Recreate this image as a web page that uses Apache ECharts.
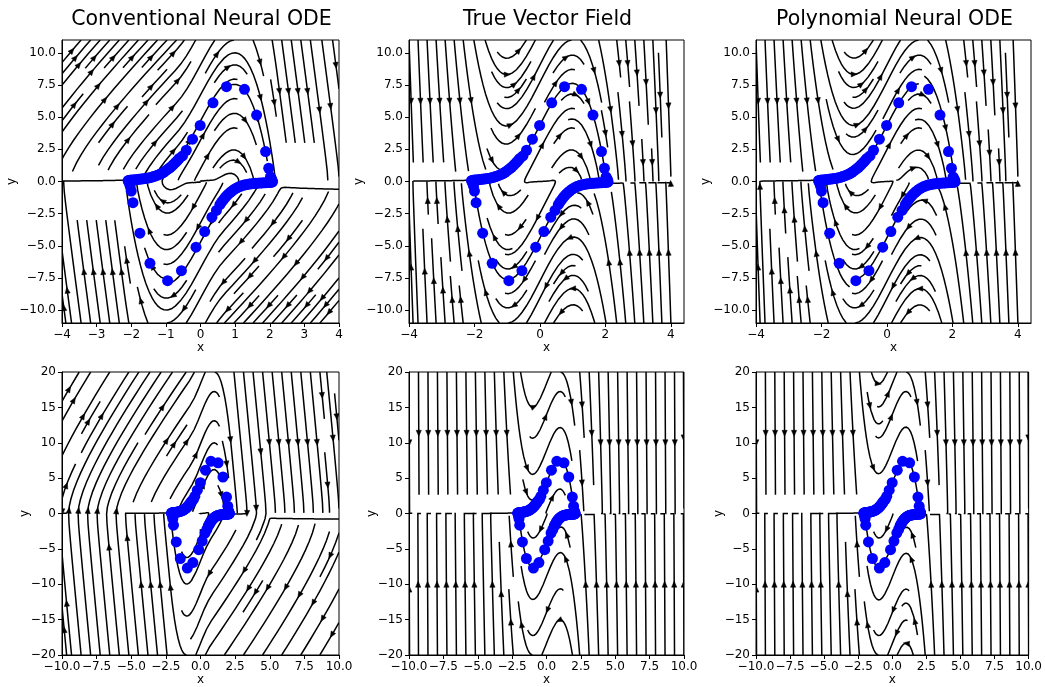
<!DOCTYPE html>
<html>
<head>
<meta charset="utf-8">
<script src="https://cdn.jsdelivr.net/npm/echarts@6/dist/echarts.min.js"></script>
<style>
  html, body { margin: 0; padding: 0; background: #fff; }
  #chart { width: 1045px; height: 687px; }
</style>
</head>
<body>
<div id="chart"></div>
<script>
// panel titles
const titles = ['Conventional Neural ODE', 'True Vector Field', 'Polynomial Neural ODE'];

const trajX = [
  -2.09, -2.07, -2.04, -2.0, -1.95, -1.9, -1.84, -1.78, -1.72, -1.66, -1.6, -1.54, -1.48, -1.42, -1.36,
  -1.3, -1.24, -1.18, -1.12, -1.07, -1.02, -0.97, -0.92, -0.87, -0.82, -0.77, -0.72, -0.67, -0.62,
  -0.52, -0.41, -0.23, -0.01, 0.36, 0.75, 1.27, 1.62, 1.88, 1.97, 2.02,
  2.05, 2.06, 2.07,
  2.08, 2.06, 2.03, 1.99, 1.94, 1.89, 1.83, 1.77, 1.71, 1.65, 1.59, 1.53, 1.47, 1.41, 1.35,
  1.29, 1.23, 1.17, 1.11, 1.06, 1.01, 0.96, 0.91, 0.86, 0.81, 0.76, 0.71, 0.66, 0.61, 0.56,
  0.46, 0.33, 0.12, -0.13, -0.55, -0.95, -1.46, -1.75, -1.95, -2.0,
  -2.03, -2.05, -2.07
];
const trajY = [
  0.06, 0.08, 0.1, 0.11, 0.12, 0.13, 0.15, 0.17, 0.19, 0.21, 0.23, 0.26, 0.29, 0.33, 0.38,
  0.43, 0.49, 0.56, 0.64, 0.72, 0.8, 0.9, 1.0, 1.1, 1.22, 1.35, 1.48, 1.62, 1.78,
  1.99, 2.43, 3.29, 4.36, 6.12, 7.37, 7.17, 5.16, 2.33, 1.03, 0.35,
  0.2, 0.1, 0.03,
  -0.02, -0.04, -0.06, -0.07, -0.08, -0.09, -0.1, -0.11, -0.12, -0.13, -0.14, -0.16, -0.18, -0.2, -0.23,
  -0.26, -0.3, -0.35, -0.41, -0.48, -0.56, -0.64, -0.74, -0.85, -0.97, -1.1, -1.25, -1.42, -1.6, -1.8,
  -2.25, -2.77, -3.89, -5.11, -6.93, -7.71, -6.36, -4.02, -1.65, -0.74,
  -0.35, -0.15, -0.02
];

// tick labels
const topXTicksConv = [-4, -3, -2, -1, 0, 1, 2, 3, 4];
const topXTicks = [-4, -2, 0, 2, 4];
const topYTicks = [-10, -7.5, -5, -2.5, 0, 2.5, 5, 7.5, 10];
const botXTicks = [-10, -7.5, -5, -2.5, 0, 2.5, 5, 7.5, 10];
const botYTicks = [-20, -15, -10, -5, 0, 5, 10, 15, 20];

// vector field parameters (Van der Pol type)
const MU_TRUE = 5.0;
const MU_POLY = 4.97;
const POLY_K = 1.01;
const CONV_MU = 5.0;
const CONV_SLOPE = 2.8;
const CONV_FLOOR = -20;
const CONV_BAND = 0.4;

function trueField(x, y) { return [y, MU_TRUE * (1 - x * x) * y - x]; }
function polyField(x, y) { return [y, MU_POLY * (1 - x * x) * y - POLY_K * x]; }
function convField(x, y) {
  if (y < 0) { const r = convField(-x, -y); return [-r[0], -r[1]]; }
  const kv = CONV_MU * (1 - x * x);
  const kfar = x < 0 ? Math.max(kv, CONV_SLOPE) : Math.max(kv, CONV_FLOOR);
  const w = Math.exp(-(y / CONV_BAND) * (y / CONV_BAND));
  const k = kv * w + kfar * (1 - w);
  return [y, k * y - x];
}

function pyRound(v) {
  const f = Math.floor(v);
  const d = v - f;
  if (d === 0.5) return f % 2 === 0 ? f : f + 1;
  return Math.round(v);
}

// matplotlib-like streamplot (density 1)
function streamplot(field, xr, yr) {
  const x0 = xr[0], W = xr[1] - xr[0], y0 = yr[0], H = yr[1] - yr[0];
  const N = 30, maxerror = 0.003, maxds = 1 / N, minlength = 0.1, maxlength = 4.0;
  const mask = new Uint8Array(N * N);
  let cur = null, traj = [];
  const OUT = 'out', TERM = 'term', INVALID = 'invalid';
  const inside = (p, q) => p >= 0 && p <= 1 && q >= 0 && q <= 1;
  const toMask = (p, q) => [pyRound(p * (N - 1)), pyRound(q * (N - 1))];
  function vel(p, q) {
    if (!inside(p, q)) throw OUT;
    const uv = field(x0 + p * W, y0 + q * H);
    const ua = uv[0] / W, va = uv[1] / H, s = Math.hypot(ua, va);
    if (s === 0) throw TERM;
    return [ua / s, va / s];
  }
  function update(p, q) {
    if (!inside(p, q)) throw INVALID;
    const m = toMask(p, q);
    if (!cur || cur[0] !== m[0] || cur[1] !== m[1]) {
      const idx = m[1] * N + m[0];
      if (mask[idx] === 0) { traj.push(idx); mask[idx] = 1; cur = m; }
      else throw INVALID;
    }
  }
  function rk12(p, q, sign) {
    let ds = maxds, stotal = 0;
    const out = [];
    const f = (a, b) => { const r = vel(a, b); return [sign * r[0], sign * r[1]]; };
    while (true) {
      let k1, k2;
      try {
        if (inside(p, q)) out.push([p, q]); else throw OUT;
        k1 = f(p, q);
        k2 = f(p + ds * k1[0], q + ds * k1[1]);
      } catch (e) {
        if (e === OUT && out.length) {
          const last = out[out.length - 1];
          let c = null;
          try { c = f(last[0], last[1]); } catch (e2) { c = null; }
          if (c) {
            const dsx = c[0] === 0 ? Infinity : (c[0] < 0 ? last[0] / -c[0] : (1 - last[0]) / c[0]);
            const dsy = c[1] === 0 ? Infinity : (c[1] < 0 ? last[1] / -c[1] : (1 - last[1]) / c[1]);
            const d = Math.min(dsx, dsy);
            out.push([last[0] + c[0] * d, last[1] + c[1] * d]);
            stotal += d;
          }
        }
        break;
      }
      const dx1 = ds * k1[0], dy1 = ds * k1[1];
      const dx2 = ds * 0.5 * (k1[0] + k2[0]), dy2 = ds * 0.5 * (k1[1] + k2[1]);
      const err = Math.hypot(dx2 - dx1, dy2 - dy1);
      if (err < maxerror) {
        p += dx2; q += dy2;
        try { update(p, q); } catch (e) { break; }
        if (stotal + ds > maxlength) break;
        stotal += ds;
      }
      ds = err === 0 ? maxds : Math.min(maxds, 0.85 * ds * Math.sqrt(maxerror / err));
    }
    return [stotal, out];
  }
  function integrate(p0, q0) {
    traj = [];
    try { update(p0, q0); } catch (e) { return null; }
    const b = rk12(p0, q0, -1);
    let stotal = b[0];
    let pts = b[1].reverse();
    cur = toMask(p0, q0);
    const fw = rk12(p0, q0, 1);
    stotal += fw[0];
    pts = pts.concat(fw[1].slice(1));
    if (stotal > minlength) return pts;
    traj.forEach(i => { mask[i] = 0; });
    return null;
  }
  function startPoints() {
    const res = [];
    let xfirst = 0, yfirst = 1, xlast = N - 1, ylast = N - 1, x = 0, y = 0, dir = 'right';
    for (let i = 0; i < N * N; i++) {
      res.push([x, y]);
      if (dir === 'right') { x += 1; if (x >= xlast) { xlast -= 1; dir = 'up'; } }
      else if (dir === 'up') { y += 1; if (y >= ylast) { ylast -= 1; dir = 'left'; } }
      else if (dir === 'left') { x -= 1; if (x <= xfirst) { xfirst += 1; dir = 'down'; } }
      else { y -= 1; if (y <= yfirst) { yfirst += 1; dir = 'right'; } }
    }
    return res;
  }
  const lines = [], arrows = [];
  startPoints().forEach(([xm, ym]) => {
    if (mask[ym * N + xm] !== 0) return;
    const t = integrate(xm / (N - 1), ym / (N - 1));
    if (!t) return;
    const pts = t.map(([p, q]) => [x0 + p * W, y0 + q * H]);
    lines.push(pts);
    const s = [];
    let acc = 0;
    for (let i = 1; i < pts.length; i++) {
      acc += Math.hypot(pts[i][0] - pts[i - 1][0], pts[i][1] - pts[i - 1][1]);
      s.push(acc);
    }
    const half = acc / 2;
    let n = 0;
    while (n < s.length && s[n] < half) n++;
    const a = pts[n], b = pts[Math.min(n + 1, pts.length - 1)];
    arrows.push([a[0], a[1], (a[0] + b[0]) / 2, (a[1] + b[1]) / 2]);
  });
  return { lines, arrows };
}

const FONT = 'DejaVu Sans';
const fmt = d => v => (v < 0 ? '\u2212' : '') + Math.abs(v).toFixed(d);

const colLeft = [62, 409, 756];
const colWidth = [277, 275, 275];
const rowTop = [40, 372];
const rowHeight = [283, 284];
const fields = [convField, trueField, polyField];

const panels = [];
for (let r = 0; r < 2; r++) {
  for (let c = 0; c < 3; c++) {
    const top = r === 0;
    panels.push({
      r, c,
      xr: top ? (c === 0 ? [-4, 4] : [-4, 4.4]) : [-10, 10],
      yr: top ? [-11, 11] : [-20, 20],
      gx: top ? [-4, 4] : [-10, 10],
      gy: top ? [-11, 11] : [-20, 20],
      xticks: top ? (c === 0 ? topXTicksConv : topXTicks) : botXTicks,
      yticks: top ? topYTicks : botYTicks,
      xfmt: top ? fmt(0) : fmt(1),
      yfmt: top ? fmt(1) : fmt(0),
      field: fields[c]
    });
  }
}

const grids = [], xAxes = [], yAxes = [], series = [];
panels.forEach((pn, i) => {
  grids.push({
    left: colLeft[pn.c], top: rowTop[pn.r], width: colWidth[pn.c], height: rowHeight[pn.r],
    show: true, borderColor: '#000', borderWidth: 1, backgroundColor: 'transparent'
  });
  const axisCommon = {
    gridIndex: i, type: 'value', nameLocation: 'middle', nameMoveOverlap: false,
    nameTextStyle: { color: '#000', fontFamily: FONT, fontSize: 12 },
    axisLine: { show: true, onZero: false, lineStyle: { color: '#000', width: 1 } },
    splitLine: { show: false }
  };
  xAxes.push(Object.assign({}, axisCommon, {
    min: pn.xr[0], max: pn.xr[1], name: 'x', nameGap: 19,
    axisTick: { show: true, length: 4, customValues: pn.xticks, lineStyle: { color: '#000' } },
    axisLabel: { customValues: pn.xticks, formatter: pn.xfmt, color: '#000', fontFamily: FONT, fontSize: 12, margin: 6 }
  }));
  yAxes.push(Object.assign({}, axisCommon, {
    min: pn.yr[0], max: pn.yr[1], name: 'y', nameGap: pn.r === 0 ? 44 : 31,
    axisTick: { show: true, length: 4, customValues: pn.yticks, lineStyle: { color: '#000' } },
    axisLabel: { customValues: pn.yticks, formatter: pn.yfmt, color: '#000', fontFamily: FONT, fontSize: 12, margin: 6 }
  }));

  const sp = streamplot(pn.field, pn.gx, pn.gy);
  series.push({
    type: 'custom', xAxisIndex: i, yAxisIndex: i, clip: true, silent: true, z: 2,
    data: sp.lines.map((l, k) => [l[0][0], l[0][1], k]),
    encode: { x: 0, y: 1 },
    renderItem: (params, api) => ({
      type: 'polyline',
      shape: { points: sp.lines[params.dataIndex].map(p => api.coord(p)) },
      style: { stroke: '#000', lineWidth: 1.5, fill: null }
    })
  });
  series.push({
    type: 'custom', xAxisIndex: i, yAxisIndex: i, clip: true, silent: true, z: 3,
    data: sp.arrows.map(a => [a[0], a[1], a[2], a[3]]),
    encode: { x: 0, y: 1 },
    renderItem: (params, api) => {
      const a = sp.arrows[params.dataIndex];
      const t = api.coord([a[0], a[1]]), h = api.coord([a[2], a[3]]);
      const ang = Math.atan2(h[1] - t[1], h[0] - t[0]);
      const cs = Math.cos(ang), sn = Math.sin(ang);
      const L = 6, hw = 2.6;
      const tip = [h[0] + cs * L / 2, h[1] + sn * L / 2];
      const base = [tip[0] - cs * L, tip[1] - sn * L];
      return {
        type: 'polygon',
        shape: { points: [tip, [base[0] - sn * hw, base[1] + cs * hw], [base[0] + sn * hw, base[1] - cs * hw]] },
        style: { fill: '#000', stroke: '#000', lineWidth: 0.5 }
      };
    }
  });
  series.push({
    type: 'scatter', xAxisIndex: i, yAxisIndex: i, z: 5, silent: true,
    symbol: 'circle', symbolSize: 11,
    itemStyle: { color: '#0000ff', opacity: 1 },
    data: trajX.map((x, k) => [x, trajY[k]])
  });
});

const chart = echarts.init(document.getElementById('chart'), null, { renderer: 'canvas' });
chart.setOption({
  animation: false,
  backgroundColor: '#fff',
  title: titles.map((t, c) => ({
    text: t, left: colLeft[c] + colWidth[c] / 2 - 4, top: 4, textAlign: 'center',
    textStyle: { fontFamily: FONT, fontSize: 20.5, fontWeight: 'normal', color: '#000' }
  })),
  grid: grids,
  xAxis: xAxes,
  yAxis: yAxes,
  series
});
</script>
</body>
</html>
